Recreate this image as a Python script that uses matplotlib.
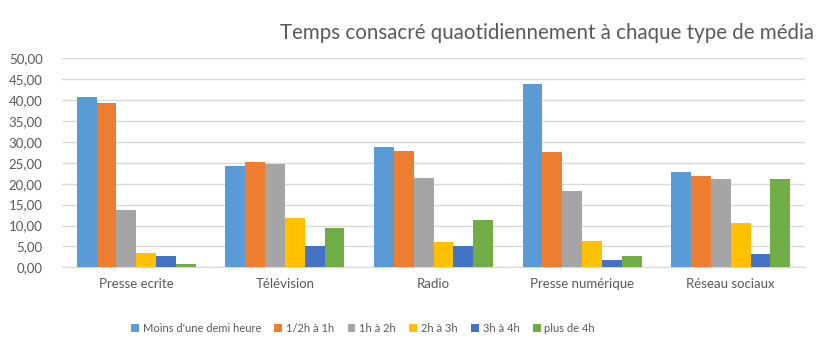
import matplotlib
matplotlib.use("Agg")
import matplotlib.pyplot as plt
import numpy as np

plt.rcParams['font.family'] = ['Lato', 'DejaVu Sans']

categories = ["Presse ecrite", "Télévision", "Radio", "Presse numérique", "Réseau sociaux"]
series_names = ["Moins d'une demi heure", "1/2h à 1h", "1h à 2h", "2h à 3h", "3h à 4h", "plus de 4h"]
moins_demi = [40.75, 24.2, 28.8, 43.9, 22.8]
demi_1h = [39.3, 25.1, 27.8, 27.6, 21.85]
h1_2 = [13.7, 24.7, 21.4, 18.3, 21.1]
h2_3 = [3.4, 11.8, 6.1, 6.3, 10.6]
h3_4 = [2.7, 5.1, 5.1, 1.75, 3.2]
plus_4h = [0.8, 9.4, 11.3, 2.7, 21.1]
yticks = [0, 5, 10, 15, 20, 25, 30, 35, 40, 45, 50]

series = [moins_demi, demi_1h, h1_2, h2_3, h3_4, plus_4h]
colors = ["#5B9BD5", "#ED7D31", "#A5A5A5", "#FFC000", "#4472C4", "#70AD47"]

fig = plt.figure(figsize=(8.22, 3.51), dpi=100)
ax = fig.add_axes([62/822, 1 - 267.3/351, (805-62)/822, (267.3-58.3)/351])

x = np.arange(len(categories))
w = 0.8 / 6
for i, (s, c, n) in enumerate(zip(series, colors, series_names)):
    ax.bar(x + (i - 2.5) * w, s, width=w, color=c, label=n, zorder=3)

ax.set_xlim(-0.5, len(categories) - 0.5)
ax.set_ylim(0, 50)
ax.set_yticks(yticks)
ax.set_yticklabels([f"{v:.2f}".replace('.', ',') for v in yticks], color="#595959", fontsize=9.5)
ax.set_xticks(x)
ax.set_xticklabels(categories, color="#595959", fontsize=9.5)
ax.tick_params(axis='both', length=0, pad=8)
ax.tick_params(axis='y', pad=14)
ax.grid(axis='y', color="#D9D9D9", linewidth=1, zorder=0)
for sp in ['top', 'right', 'left']:
    ax.spines[sp].set_visible(False)
ax.spines['bottom'].set_color("#D9D9D9")

fig.text(547/822, 1 - 33/351, "Temps consacré quaotidiennement à chaque type de média",
         ha='center', va='center', fontsize=14.8, color="#595959")

leg = fig.legend(loc='center', bbox_to_anchor=(363/822, 1 - 328/351), ncol=6, frameon=False,
                 fontsize=8, handlelength=0.7, handleheight=0.7, handletextpad=0.35,
                 columnspacing=1.2)
for t in leg.get_texts():
    t.set_color("#595959")

fig.savefig("out.png", dpi=100)
